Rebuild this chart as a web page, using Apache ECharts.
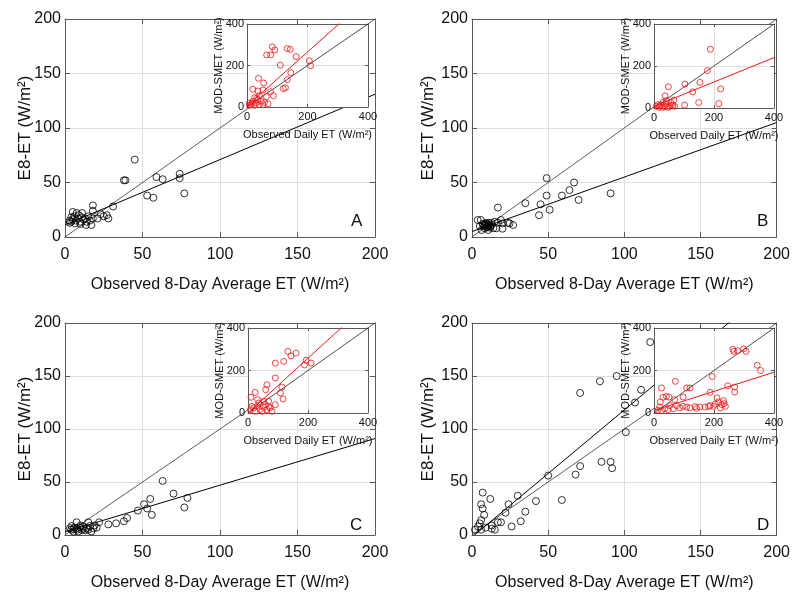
<!DOCTYPE html>
<html>
<head>
<meta charset="utf-8">
<script src="https://cdn.jsdelivr.net/npm/echarts@6/dist/echarts.min.js"></script>
<style>
  html, body { margin: 0; padding: 0; background: #fff; }
  #chart { width: 793px; height: 592px; }
</style>
</head>
<body>
<div id="chart"></div>
<script>
// ---------- data ----------
const mainTicks = [0, 50, 100, 150, 200];
const insetTicks = [0, 200, 400];
const panelLetters = ['A', 'B', 'C', 'D'];

// 8-day averages: observed (x) vs E8-ET (y)
const aObs8 = [45, 38, 39, 59, 63, 74, 74, 77, 53, 57, 31, 27, 28, 25, 21, 18, 18, 17, 5, 7.5, 11, 5, 4, 8.5, 12, 14, 6.5, 9.7, 13, 15, 18, 13.5, 3, 6, 9, 10, 16, 4, 7, 11, 23, 3];
const aE8   = [71, 52, 52, 55, 53, 58, 54, 40, 38, 36, 28, 20, 17, 19, 17, 29, 24, 11, 23, 22, 22, 16, 14, 17, 16, 14, 12.5, 14, 17, 19, 17, 11, 13, 19, 20, 12, 15, 18, 15, 18, 21, 15];

const bObs8 = [49, 67, 64, 59, 49, 91, 70, 35, 45, 51, 44, 17, 3.7, 5.8, 5.2, 7.4, 8.4, 9.5, 10.6, 11.7, 12.8, 15, 17, 19, 20, 20, 23.6, 24.7, 27, 14, 16, 8.4, 6.3, 10.6, 9, 10, 11, 8, 12, 10, 9, 11, 7, 13];
const bE8   = [54, 50, 43, 38, 38, 40, 34, 31, 30, 25, 20, 27, 15.6, 15.6, 10, 11, 12, 9.5, 10, 8.6, 13, 14, 13, 15.6, 12.5, 7.6, 13, 12.5, 11, 8, 8, 8, 6.4, 6.4, 11, 12, 11, 10, 10, 9, 13, 13, 12, 11];

const cObs8 = [63, 70, 79, 77, 55, 51, 53, 56, 47, 40, 38, 33, 28, 22, 15, 7.5, 3.2, 5.4, 7.5, 9.7, 11.8, 14, 16, 18.3, 20.4, 5.4, 8.6, 10.8, 17, 13, 4.3, 6, 8, 12, 15, 19, 10, 4];
const cE8   = [51, 39, 35, 26, 34, 29, 25, 19, 23, 16, 13, 11, 10, 12, 12, 12, 6.4, 5.5, 6.4, 7.3, 7.9, 6.4, 8.5, 6.4, 7, 3.3, 3.3, 4.9, 3.3, 4.3, 8.5, 7, 5, 6, 5, 9, 9, 5];

const dObs8 = [71, 84, 95, 111, 107, 101, 117, 85, 91, 92, 71, 68, 50, 59, 42, 35, 32, 26, 30, 24, 22, 7, 12, 6, 7, 8, 6, 5, 2, 6, 9, 13, 15, 17, 19, 13, 4];
const dE8   = [134, 145, 150, 137, 125, 97, 182, 69, 69, 63, 65, 57, 56, 33, 32, 22, 13, 8, 37, 29, 21, 40, 34, 29, 25, 19, 14, 11, 5, 5, 7, 9, 5, 12, 12, 6, 8];

// daily values: observed (x) vs MOD-SMET (y)
const aObsDaily = [84, 78, 65, 92, 133, 143, 162, 110, 206, 210, 145, 133, 120, 127, 38, 55, 78, 87, 19, 36, 53, 64, 25, 41, 69, 8, 13, 19, 30, 41, 25, 36, 47, 53, 8, 17, 58, 32];
const aModDaily = [290, 251, 251, 275, 282, 278, 243, 202, 223, 199, 165, 132, 89, 93, 138, 116, 74, 55, 86, 77, 82, 50, 45, 55, 16, 19, 11, 27, 19, 11, 8, 35, 27, 11, 8, 17, 22, 42];

const bObsDaily = [188, 178, 222, 216, 153, 129, 103, 149, 102, 48, 37, 66, 63, 8, 17, 24, 30, 41, 47, 52, 58, 19, 36, 69, 28, 13, 41, 56];
const bModDaily = [280, 178, 91, 21, 122, 77, 114, 26, 14, 101, 58, 38, 11, 8, 3, 14, 27, 19, 3, 8, 14, 11, 6, 8, 3, 16, 35, 27];

const cObsDaily = [133, 160, 143, 119, 91, 91, 194, 188, 210, 63, 59, 113, 108, 117, 69, 91, 24, 10, 32, 8, 19, 30, 41, 52, 63, 74, 24, 47, 36, 58, 13, 80, 69, 52];
const cModDaily = [290, 282, 269, 243, 235, 165, 248, 226, 235, 133, 110, 122, 94, 66, 55, 39, 97, 74, 63, 16, 24, 31, 16, 27, 16, 24, 8, 8, 47, 39, 31, 8, 31, 55];

const dObsDaily = [263, 266, 279, 299, 307, 344, 355, 269, 269, 246, 194, 71, 25, 109, 120, 97, 187, 41, 30, 50, 21, 69, 153, 137, 97, 86, 75, 64, 53, 210, 215, 232, 238, 226, 221, 234, 198, 204, 182, 170, 187, 109, 47, 36, 19, 13, 25, 120, 142];
const dModDaily = [300, 290, 293, 302, 290, 225, 200, 122, 99, 128, 172, 149, 118, 118, 118, 75, 97, 78, 74, 75, 52, 63, 28, 30, 31, 24, 35, 20, 35, 71, 52, 58, 31, 39, 24, 44, 31, 42, 31, 28, 35, 28, 16, 20, 28, 13, 11, 24, 22];

// fitted lines (intercept, slope)
const fitIntercept8 = [11, 5, 3, -2];
const fitSlope8     = [0.6, 0.5, 0.44, 1.2];
const fitInterceptDaily = [5, 8, 0, 12];
const fitSlopeDaily     = [1.3, 0.58, 1.29, 0.45];

// ---------- layout & style ----------
const FONT = '"Liberation Sans", Arial, Helvetica, sans-serif';
const FRAME = '#5a5a5a';
const GRIDLINE = '#dedede';
const TEXT = '#111';

const layout = [
  { main: [65, 19, 310, 218],  inset: [247, 24, 121, 83],  letter: [357, 223], yGap: 31 },
  { main: [472, 19, 308, 218], inset: [654, 24, 120, 84],  letter: [763, 223], yGap: 35 },
  { main: [65, 323, 310, 219], inset: [248, 328, 120, 85], letter: [356, 527], yGap: 31 },
  { main: [472, 323, 308, 219], inset: [654, 328, 120, 85], letter: [763, 527], yGap: 35 }
];

const panels = [
  { x8: aObs8, y8: aE8, xd: aObsDaily, yd: aModDaily },
  { x8: bObs8, y8: bE8, xd: bObsDaily, yd: bModDaily },
  { x8: cObs8, y8: cE8, xd: cObsDaily, yd: cModDaily },
  { x8: dObs8, y8: dE8, xd: dObsDaily, yd: dModDaily }
];

const zip = (xs, ys) => xs.map((x, i) => [x, ys[i]]);
const lineData = (b, m, lo, hi) => [[lo, b + m * lo], [hi, b + m * hi]];

const grids = [], xAxes = [], yAxes = [], series = [], graphics = [];

function addAxes(gi, ticks, cfg) {
  const min = ticks[0], max = ticks[ticks.length - 1], interval = ticks[1] - ticks[0];
  const common = {
    gridIndex: gi, type: 'value', min, max, interval, z: cfg.z,
    axisLine: { show: true, onZero: false, lineStyle: { color: FRAME, width: 1 } },
    axisTick: { show: true, inside: true, length: cfg.tick, lineStyle: { color: FRAME, width: 1 } }
  };
  const label = (margin) => ({ show: true, color: TEXT, fontSize: cfg.labelSize, fontFamily: FONT, margin });
  const nameStyle = { color: TEXT, fontSize: cfg.nameSize, fontFamily: FONT };
  const split = { show: true, lineStyle: { color: GRIDLINE, width: 1 } };
  xAxes.push(Object.assign({}, common, {
    position: 'bottom', axisLabel: label(cfg.xMargin), splitLine: split,
    name: cfg.xName, nameLocation: 'middle', nameGap: cfg.xNameGap, nameMoveOverlap: false,
    nameTextStyle: nameStyle
  }));
  xAxes.push(Object.assign({}, common, {
    position: 'top', axisLabel: { show: false }, splitLine: { show: false }
  }));
  yAxes.push(Object.assign({}, common, {
    position: 'left', axisLabel: label(cfg.yMargin), splitLine: split,
    name: cfg.yName, nameLocation: 'middle', nameGap: cfg.yNameGap, nameMoveOverlap: false,
    nameTextStyle: Object.assign({}, nameStyle, { fontSize: cfg.yNameSize || cfg.nameSize })
  }));
  yAxes.push(Object.assign({}, common, {
    position: 'right', axisLabel: { show: false }, splitLine: { show: false }
  }));
  return { xi: xAxes.length - 2, yi: yAxes.length - 2 };
}

panels.forEach((p, k) => {
  const L = layout[k];

  // main 8-day panel
  const gm = grids.length;
  grids.push({ left: L.main[0], top: L.main[1], width: L.main[2], height: L.main[3],
    show: true, backgroundColor: '#fff', borderWidth: 0, z: 0 });
  const am = addAxes(gm, mainTicks, {
    z: 1, tick: 5, labelSize: 16, nameSize: 16, yNameSize: 17,
    xMargin: 10, yMargin: 4, xNameGap: 40, yNameGap: L.yGap,
    xName: 'Observed 8-Day Average ET (W/m²)', yName: 'E8-ET (W/m²)'
  });
  const mLo = mainTicks[0], mHi = mainTicks[mainTicks.length - 1];
  series.push({
    type: 'line', xAxisIndex: am.xi, yAxisIndex: am.yi, z: 3,
    data: lineData(0, 1, mLo, mHi), symbol: 'none', clip: true, silent: true,
    lineStyle: { color: '#333', width: 0.8 }
  });
  series.push({
    type: 'line', xAxisIndex: am.xi, yAxisIndex: am.yi, z: 3,
    data: lineData(fitIntercept8[k], fitSlope8[k], mLo, mHi), symbol: 'none', clip: true, silent: true,
    lineStyle: { color: '#000', width: 1 }
  });
  series.push({
    type: 'scatter', xAxisIndex: am.xi, yAxisIndex: am.yi, z: 4,
    data: zip(p.x8, p.y8), symbol: 'circle', symbolSize: 7, silent: true,
    itemStyle: { color: 'rgba(0,0,0,0)', borderColor: '#000', borderWidth: 1 }
  });

  // inset daily panel
  const gi = grids.length;
  grids.push({ left: L.inset[0], top: L.inset[1], width: L.inset[2], height: L.inset[3],
    show: true, backgroundColor: '#fff', borderWidth: 0, z: 10 });
  const ai = addAxes(gi, insetTicks, {
    z: 11, tick: 3, labelSize: 11, nameSize: 11,
    xMargin: 4, yMargin: 3, xNameGap: 22, yNameGap: 23,
    xName: 'Observed Daily ET (W/m²)', yName: 'MOD-SMET (W/m²)'
  });
  const iLo = insetTicks[0], iHi = insetTicks[insetTicks.length - 1];
  series.push({
    type: 'line', xAxisIndex: ai.xi, yAxisIndex: ai.yi, z: 12,
    data: lineData(0, 1, iLo, iHi), symbol: 'none', clip: true, silent: true,
    lineStyle: { color: '#222', width: 0.8 }
  });
  series.push({
    type: 'line', xAxisIndex: ai.xi, yAxisIndex: ai.yi, z: 12,
    data: lineData(fitInterceptDaily[k], fitSlopeDaily[k], iLo, iHi), symbol: 'none', clip: true, silent: true,
    lineStyle: { color: '#f01818', width: 1 }
  });
  series.push({
    type: 'scatter', xAxisIndex: ai.xi, yAxisIndex: ai.yi, z: 13,
    data: zip(p.xd, p.yd), symbol: 'circle', symbolSize: 6, silent: true,
    itemStyle: { color: 'rgba(0,0,0,0)', borderColor: '#f01818', borderWidth: 1 }
  });

  graphics.push({
    type: 'text', left: L.letter[0] - 6, top: L.letter[1] - 10, z: 20,
    style: { text: panelLetters[k], fontSize: 17, fontFamily: FONT, fill: TEXT }
  });
});

const chart = echarts.init(document.getElementById('chart'), null, { renderer: 'canvas' });
chart.setOption({
  animation: false,
  backgroundColor: '#fff',
  grid: grids,
  xAxis: xAxes,
  yAxis: yAxes,
  series: series,
  graphic: graphics
});
</script>
</body>
</html>
